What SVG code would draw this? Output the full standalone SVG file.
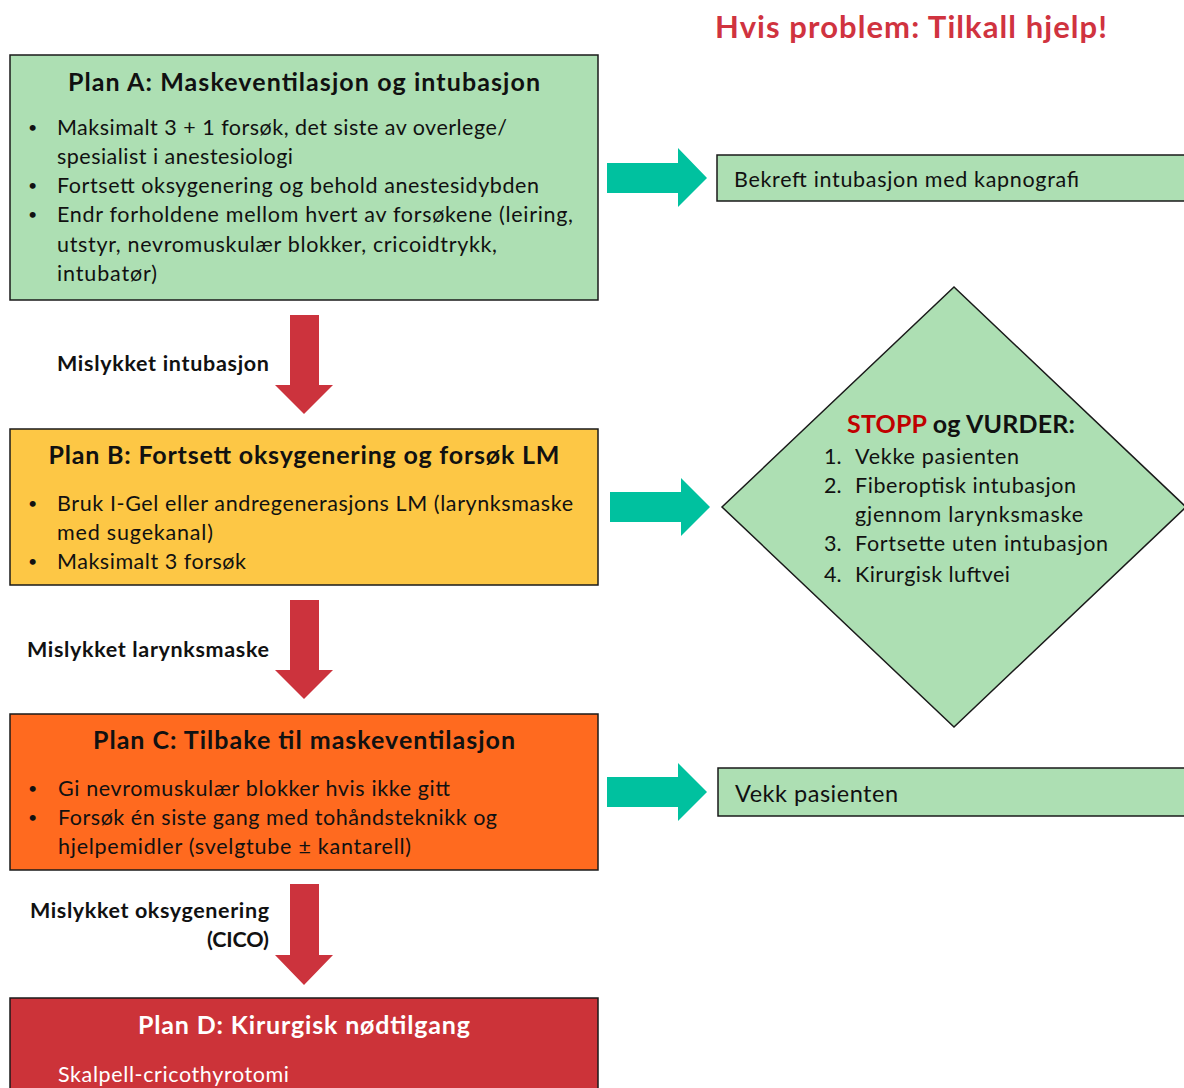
<svg xmlns="http://www.w3.org/2000/svg" width="1184" height="1088" viewBox="0 0 1184 1088">
<style>
text{font-family:Lato,"Open Sans","Liberation Sans",sans-serif;fill:#111}
.t{font-size:25px;font-weight:bold;text-anchor:middle}
.b{font-size:21.5px}
.d{font-size:16px}
.l{font-size:21.5px;font-weight:bold;text-anchor:end}
.w{fill:#fff}
.box{stroke:#1a1a1a;stroke-width:1.5}
.g{fill:#addfb3}
.teal{fill:#00c19f}
.red{fill:#cc333d}
</style>
<rect width="1184" height="1088" fill="#fff"/>
<text x="715" y="38" style="font-size:31px;font-weight:bold;fill:#d0333f" textLength="392">Hvis problem: Tilkall hjelp!</text>

<g id="connectors">
  <polygon class="teal" points="607,163 678,163 678,148 707,178 678,207 678,193 607,193"/>
  <polygon class="teal" points="610,492 681,492 681,478 710,507 681,536 681,522 610,522"/>
  <polygon class="teal" points="607,777 678,777 678,763 707,792 678,821 678,807 607,807"/>
  <polygon class="red" points="290,315 319,315 319,385 333,385 304,414 275,385 290,385"/>
  <polygon class="red" points="290,600 319,600 319,670 333,670 304,699 275,670 290,670"/>
  <polygon class="red" points="290,884 319,884 319,955 333,955 304,985 275,955 290,955"/>
  <text class="l" x="269" y="371" textLength="212">Mislykket intubasjon</text>
  <text class="l" x="269" y="657" textLength="242">Mislykket larynksmaske</text>
  <text class="l" x="269" y="918" textLength="239">Mislykket oksygenering</text>
  <text class="l" x="269" y="947" textLength="62">(CICO)</text>
</g>

<g id="planA">
  <rect class="box g" x="10" y="55" width="588" height="245"/>
  <text class="t" x="304" y="91" textLength="472">Plan A: Maskeventilasjon og intubasjon</text>
  <text class="d" x="28" y="133">•</text>
  <text class="b" x="57" y="135" textLength="450">Maksimalt 3 + 1 forsøk, det siste av overlege/</text>
  <text class="b" x="57" y="164" textLength="236">spesialist i anestesiologi</text>
  <text class="d" x="28" y="191">•</text>
  <text class="b" x="57" y="193" textLength="482">Fortsett oksygenering og behold anestesidybden</text>
  <text class="d" x="28" y="220">•</text>
  <text class="b" x="57" y="222" textLength="516">Endr forholdene mellom hvert av forsøkene (leiring,</text>
  <text class="b" x="57" y="252" textLength="440">utstyr, nevromuskulær blokker, cricoidtrykk,</text>
  <text class="b" x="57" y="281" textLength="100">intubatør)</text>
</g>

<g id="bekreft">
  <rect class="box g" x="717" y="155" width="480" height="46"/>
  <text class="b" x="734" y="187" textLength="345">Bekreft intubasjon med kapnografi</text>
</g>

<g id="planB">
  <rect class="box" fill="#fdc745" x="10" y="429" width="588" height="156"/>
  <text class="t" x="304" y="464" textLength="511">Plan B: Fortsett oksygenering og forsøk LM</text>
  <text class="d" x="28" y="509">•</text>
  <text class="b" x="57" y="511" textLength="516">Bruk I-Gel eller andregenerasjons LM (larynksmaske</text>
  <text class="b" x="57" y="540" textLength="156">med sugekanal)</text>
  <text class="d" x="28" y="567">•</text>
  <text class="b" x="57" y="569" textLength="189">Maksimalt 3 forsøk</text>
</g>

<g id="stopp">
  <polygon class="box g" points="954,287 1186,507 954,727 722,507"/>
  <text x="847" y="433" style="font-size:25px;font-weight:bold" textLength="228"><tspan fill="#c00000">STOPP</tspan> og VURDER:</text>
  <text class="b" x="824" y="464">1.</text>
  <text class="b" x="855" y="464" textLength="164">Vekke pasienten</text>
  <text class="b" x="824" y="493">2.</text>
  <text class="b" x="855" y="493" textLength="221">Fiberoptisk intubasjon</text>
  <text class="b" x="855" y="522" textLength="228">gjennom larynksmaske</text>
  <text class="b" x="824" y="551">3.</text>
  <text class="b" x="855" y="551" textLength="253">Fortsette uten intubasjon</text>
  <text class="b" x="824" y="582">4.</text>
  <text class="b" x="855" y="582" textLength="155">Kirurgisk luftvei</text>
</g>

<g id="planC">
  <rect class="box" fill="#ff6a1f" x="10" y="714" width="588" height="156"/>
  <text class="t" x="304" y="749" textLength="422">Plan C: Tilbake til maskeventilasjon</text>
  <text class="d" x="28" y="794">•</text>
  <text class="b" x="58" y="796" textLength="392">Gi nevromuskulær blokker hvis ikke gitt</text>
  <text class="d" x="28" y="823">•</text>
  <text class="b" x="58" y="825" textLength="439">Forsøk én siste gang med tohåndsteknikk og</text>
  <text class="b" x="58" y="854" textLength="353">hjelpemidler (svelgtube ± kantarell)</text>
</g>

<g id="vekk">
  <rect class="box g" x="718" y="768" width="480" height="48"/>
  <text x="735" y="802" style="font-size:23.5px" textLength="163">Vekk pasienten</text>
</g>

<g id="planD">
  <rect class="box" fill="#cc3339" x="10" y="998" width="588" height="100"/>
  <text class="t w" x="304" y="1034" textLength="332">Plan D: Kirurgisk nødtilgang</text>
  <text class="b w" x="58" y="1082" textLength="231">Skalpell-cricothyrotomi</text>
</g>
</svg>
